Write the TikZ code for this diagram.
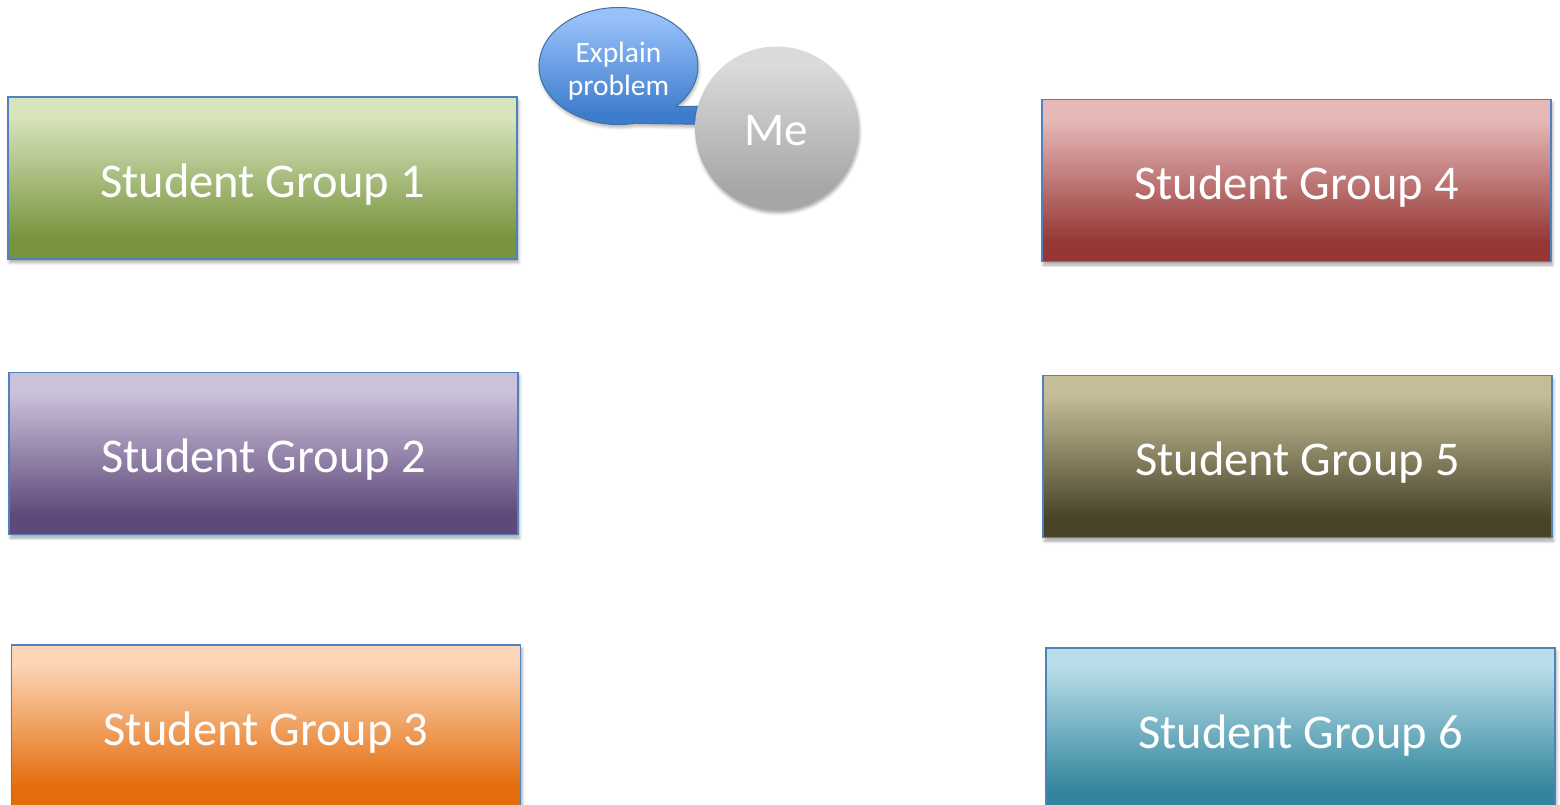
\documentclass[tikz,border=0pt]{standalone}
\usepackage{fontspec}
\setmainfont{Carlito}
\usetikzlibrary{calc,shadows.blur}

% group box colours (light top, dark bottom)
\definecolor{gAtop}{HTML}{D8E4BC}\definecolor{gAbot}{HTML}{77933C}
\definecolor{gBtop}{HTML}{CCC1DA}\definecolor{gBbot}{HTML}{5F497A}
\definecolor{gCtop}{HTML}{FBD5B5}\definecolor{gCbot}{HTML}{E46C0A}
\definecolor{gDtop}{HTML}{E6B9B8}\definecolor{gDbot}{HTML}{953735}
\definecolor{gEtop}{HTML}{C4BD97}\definecolor{gEbot}{HTML}{494429}
\definecolor{gFtop}{HTML}{B7DDE8}\definecolor{gFbot}{HTML}{31859C}
\definecolor{boxline}{HTML}{4F81BD}
\definecolor{bubtop}{HTML}{98C1FA}\definecolor{bubbot}{HTML}{3D7CCC}
\definecolor{bubline}{HTML}{41719C}
\definecolor{metop}{HTML}{DADADA}\definecolor{mebot}{HTML}{A6A6A6}

\colorlet{shtop}{white}\colorlet{shbot}{black}
% short flat bands at top and bottom, long even ramp in between
\pgfdeclareverticalshading[shtop,shbot]{band}{100bp}{%
  color(0bp)=(shbot); color(31bp)=(shbot);
  color(69bp)=(shtop); color(100bp)=(shtop)}

\tikzset{
  fillpair/.style 2 args={/utils/exec={\colorlet{shtop}{#1}\colorlet{shbot}{#2}},
    shading=band},
  softshadow/.style={blur shadow={shadow xshift=1.5pt, shadow yshift=-3.5pt,
      shadow blur radius=3pt, shadow opacity=35}},
  groupbox/.style={rectangle, draw=boxline, line width=1.6pt,
    minimum width=509pt, minimum height=162pt, inner sep=0pt, softshadow},
  grouptext/.style={text=white, font=\fontsize{48.5}{58}\selectfont,
    text depth=0pt, yshift=-2.5pt},
  bubbleshape/.style={draw=bubline, line width=1pt, line join=round,
    blur shadow={shadow xshift=1pt, shadow yshift=-3pt,
      shadow blur radius=3pt, shadow opacity=30}},
  bubbletext/.style={text=white, align=center,
    font=\fontsize{29.5}{33}\selectfont},
  mecircle/.style={circle, minimum size=163pt, inner sep=0pt, softshadow},
  metext/.style={text=white, font=\fontsize{47}{56}\selectfont, yshift=-3pt}
}

\begin{document}
\begin{tikzpicture}[x=1pt,y=-1pt]
\path[use as bounding box] (0,0) rectangle (1560,805);
\clip (0,0) rectangle (1560,805);

% left column
\node[groupbox, fillpair={gAtop}{gAbot}] (g1) at (262.5,178) {};
\node[groupbox, fillpair={gBtop}{gBbot}] (g2) at (263.5,453.5) {};
\node[groupbox, fillpair={gCtop}{gCbot}] (g3) at (266,726) {};

% right column
\node[groupbox, fillpair={gDtop}{gDbot}] (g4) at (1296.5,180.5) {};
\node[groupbox, fillpair={gEtop}{gEbot}] (g5) at (1297.5,456.5) {};
\node[groupbox, fillpair={gFtop}{gFbot}] (g6) at (1300.5,729) {};

% box captions
\foreach \g/\n in {g1/1,g2/2,g3/3,g4/4,g5/5,g6/6}
  \node[grouptext] (t\n) at (\g.center) {Student Group \n};

% speech bubble: ellipse with a flat tail running in behind the circle
\coordinate (bubc) at (618.5,66);
\path[bubbleshape, fillpair={bubtop}{bubbot}]
  (bubc) ++(44:79.5 and 58.5) -- (714,106) -- (714,124.5)
  -- ($(bubc)+(78:79.5 and 58.5)$)
  arc[start angle=78, end angle=404, x radius=79.5, y radius=58.5] -- cycle;
\node[bubbletext] (bubble) at (618.5,71) {Explain\\problem};

% the teacher
\node[mecircle, fillpair={metop}{mebot}] (me) at (776.5,128) {};
\node[metext] (melabel) at (me.center) {Me};
\end{tikzpicture}
\end{document}
